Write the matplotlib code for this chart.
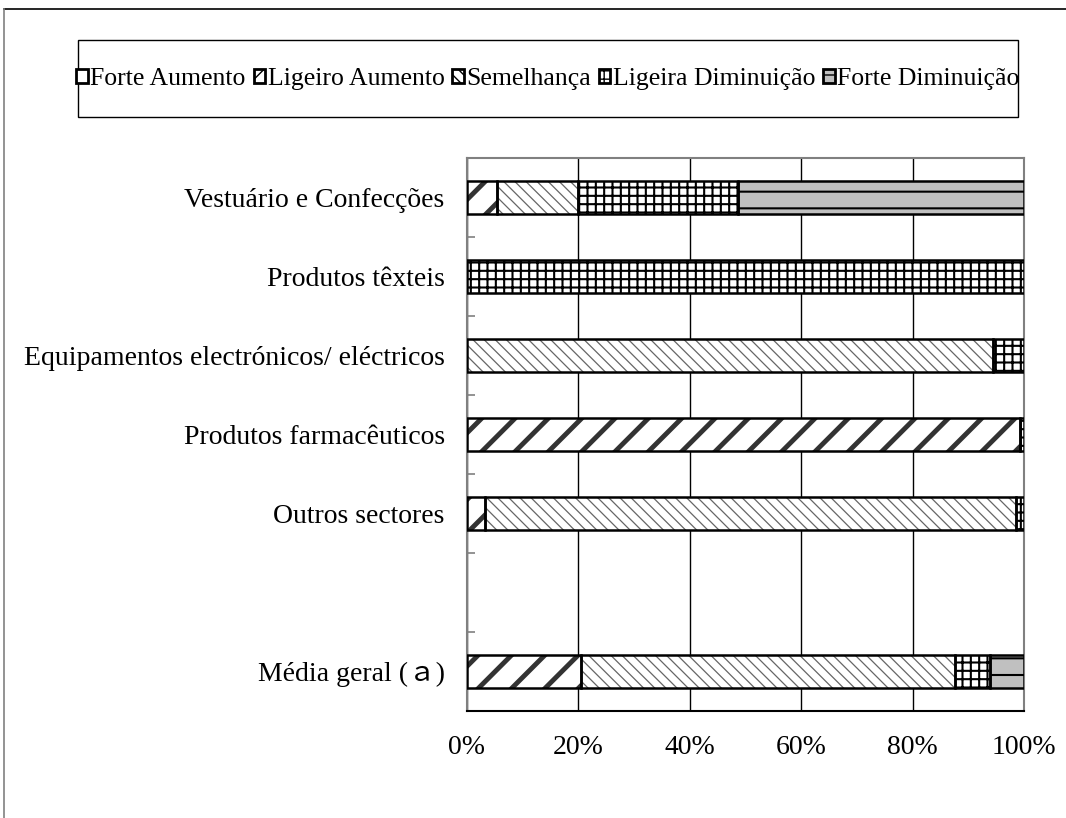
import matplotlib.pyplot as plt
import matplotlib.patches as mpatches
from matplotlib.lines import Line2D
import numpy as np

plt.rcParams['font.family'] = ['Liberation Serif', 'Noto Sans CJK JP', 'DejaVu Serif']

# categories, top to bottom (one empty slot before the overall average)
categories = ['Vestuário e Confecções', 'Produtos têxteis',
              'Equipamentos electrónicos/ eléctricos', 'Produtos farmacêuticos',
              'Outros sectores', '', 'Média geral (ａ)']
series = ['Forte Aumento', 'Ligeiro Aumento', 'Semelhança',
          'Ligeira Diminuição', 'Forte Diminuição']

forte_aumento = [0, 0, 0, 0, 0, 0, 0]
ligeiro_aumento = [5.4, 0, 0, 99.3, 3.2, 0, 20.5]
semelhanca = [14.5, 0, 94.4, 0, 95.4, 0, 67.1]
ligeira_dim = [28.8, 100, 5.6, 0.7, 1.4, 0, 6.3]
forte_dim = [51.3, 0, 0, 0, 0, 0, 6.1]

values = [forte_aumento, ligeiro_aumento, semelhanca, ligeira_dim, forte_dim]
styles = [
    dict(facecolor='white', hatch='', hcol='black', hlw=1.0),
    dict(facecolor='white', hatch='/', hcol='#333333', hlw=3.5),
    dict(facecolor='white', hatch='\\\\\\', hcol='#666666', hlw=0.9),
    dict(facecolor='white', hatch='++', hcol='black', hlw=1.5),
    dict(facecolor='#c0c0c0', hatch='-', hcol='black', hlw=1.5),
]

FS = 20

fig = plt.figure(figsize=(10.66, 8.18), dpi=100)
ax = fig.add_axes([0.438, 0.1308, 0.5226, 0.676])

y = np.arange(len(categories))
left = np.zeros(len(categories))
handles = []
for name, vals, st in zip(series, values, styles):
    vals = np.array(vals, dtype=float)
    keep = vals > 0
    with plt.rc_context({'hatch.linewidth': st['hlw']}):
        if keep.any():
            # hatched fill, then black outline on top
            ax.barh(y[keep], vals[keep], left=left[keep], height=0.42,
                    facecolor=st['facecolor'], edgecolor=st['hcol'], linewidth=0,
                    hatch=st['hatch'], zorder=3)
            ax.barh(y[keep], vals[keep], left=left[keep], height=0.42,
                    facecolor='none', edgecolor='black', linewidth=1.8, zorder=4)
    handles.append(mpatches.Patch(facecolor=st['facecolor'], edgecolor='black',
                                  linewidth=2.0, hatch=st['hatch'], label=name))
    left += vals

ax.set_xlim(0, 100)
ax.set_ylim(len(categories) - 0.5, -0.5)
ax.set_xticks([0, 20, 40, 60, 80, 100])
ax.set_xticklabels(['0%', '20%', '40%', '60%', '80%', '100%'], fontsize=FS)
ax.xaxis.grid(True, color='black', linewidth=1.0, zorder=0)
ax.set_axisbelow(True)
ax.tick_params(axis='x', length=0, pad=17)

ax.set_yticks(y)
ax.set_yticklabels(categories, fontsize=FS)
ax.tick_params(axis='y', length=0, pad=16)
ax.set_yticks(np.arange(len(categories) - 1) + 0.5, minor=True)
ax.tick_params(axis='y', which='minor', direction='in', length=6, width=1.2,
               color='#808080')

for side in ['left', 'top', 'right']:
    ax.spines[side].set_color('#808080')
    ax.spines[side].set_linewidth(1.5)
ax.spines['bottom'].set_color('black')
ax.spines['bottom'].set_linewidth(1.5)

# legend box across the top
fig.patches.append(mpatches.Rectangle((78 / 1066, 1 - 117 / 818), 940 / 1066, 77 / 818,
                                      transform=fig.transFigure, facecolor='none',
                                      edgecolor='black', linewidth=1.0))
with plt.rc_context({'hatch.linewidth': 1.0}):
    fig.legend(handles=handles, loc='center', bbox_to_anchor=(548 / 1066, 1 - 79 / 818),
               ncol=5, frameon=False, fontsize=18.5, handlelength=0.45, handleheight=0.45,
               handletextpad=0.1, columnspacing=0.3, borderpad=0)

# outer frame lines (top and left)
fig.add_artist(Line2D([4 / 1066, 1], [1 - 9 / 818, 1 - 9 / 818], transform=fig.transFigure,
                      color='black', linewidth=1.2))
fig.add_artist(Line2D([4 / 1066, 4 / 1066], [0, 1 - 9 / 818], transform=fig.transFigure,
                      color='#808080', linewidth=1.2))

fig.savefig('out.png', dpi=100)
